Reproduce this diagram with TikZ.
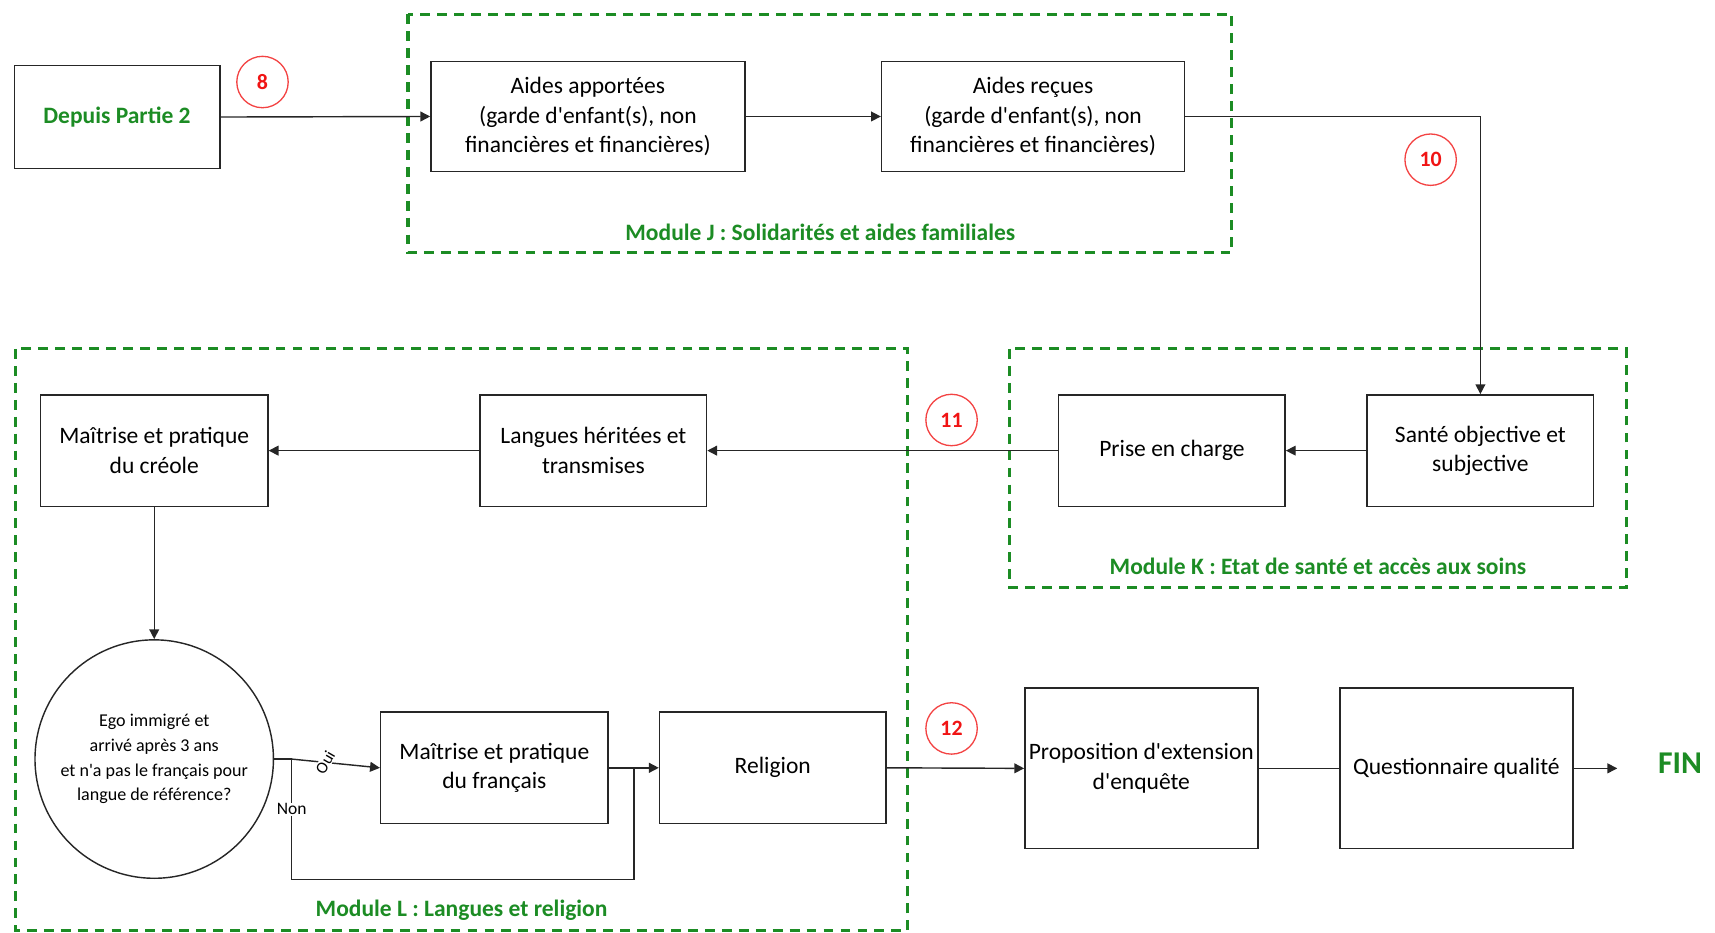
\documentclass[tikz,border=0pt]{standalone}
\usepackage{fontspec}
\setmainfont{Carlito}[Ligatures=TeXOff]
\usetikzlibrary{arrows.meta,calc}
\definecolor{modgreen}{RGB}{28,140,36}
\definecolor{numred}{RGB}{240,20,20}
\tikzset{
  stepbox/.style={draw=black!85, line width=1.3pt, rectangle, align=center, inner sep=2pt,
    font=\fontsize{21.5}{27}\selectfont},
  modframe/.style={draw=modgreen, line width=2.8pt, dash pattern=on 9pt off 6.5pt},
  modlabel/.style={text=modgreen, font=\bfseries\fontsize{21.5}{25}\selectfont},
  numcirc/.style={draw=numred!80, circle, line width=1.2pt, minimum size=47pt, inner sep=0pt,
    text=numred, font=\bfseries\fontsize{20}{22}\selectfont},
  conn/.style={draw=black!85, line width=1.3pt},
  arr/.style={conn, -{Triangle[width=9pt,length=9pt]}},
  small/.style={font=\fontsize{16.5}{22.5}\selectfont, align=center},
}
\begin{document}
\begin{tikzpicture}[x=1pt,y=-1pt]
\useasboundingbox (0,0) rectangle (1568,853);
% module frames
\draw[modframe] (373,13) rectangle (1126,231);
\draw[modframe] (923,319) rectangle (1487,537);
\draw[modframe] (14,319) rectangle (830,851);
\node[modlabel] (lj) at (750,212) {Module J : Solidarités et aides familiales};
\node[modlabel] (lk) at (1205,518) {Module K : Etat de santé et accès aux soins};
\node[modlabel] (ll) at (422,832) {Module L : Langues et religion};
% boxes
\node[stepbox, minimum width=188pt, minimum height=94pt, text=modgreen, font=\bfseries\fontsize{21.5}{25}\selectfont] (dep) at (107,107) {Depuis Partie 2};
\node[stepbox, minimum width=287pt, minimum height=101pt] (aa) at (537.5,106.5) {Aides apportées\\(garde d'enfant(s), non\\financières et financières)};
\node[stepbox, minimum width=277pt, minimum height=101pt] (ar) at (944.5,106.5) {Aides reçues\\(garde d'enfant(s), non\\financières et financières)};
\node[stepbox, minimum width=207pt, minimum height=102pt] (san) at (1353.5,412) {Santé objective et\\subjective};
\node[stepbox, minimum width=207pt, minimum height=102pt] (pec) at (1071.5,412) {Prise en charge};
\node[stepbox, minimum width=207pt, minimum height=102pt] (lh) at (542.5,412) {Langues héritées et\\transmises};
\node[stepbox, minimum width=208pt, minimum height=102pt] (cre) at (141,412) {Maîtrise et pratique\\du créole};
\node[draw=black!85, line width=1.3pt, circle, minimum size=218pt, inner sep=0pt, small] (q) at (141,694) {Ego immigré et\\arrivé après 3 ans\\et n'a pas le français pour\\langue de référence?};
\node[stepbox, minimum width=208pt, minimum height=102pt] (mf) at (452,702) {Maîtrise et pratique\\du français};
\node[stepbox, minimum width=207pt, minimum height=102pt] (rel) at (706.5,702) {Religion};
\node[stepbox, minimum width=213pt, minimum height=147pt] (prop) at (1043.5,702.5) {Proposition d'extension\\d'enquête};
\node[stepbox, minimum width=213pt, minimum height=147pt] (qq) at (1331.5,702.5) {Questionnaire qualité};
\node[text=modgreen, font=\bfseries\fontsize{29}{32}\selectfont] (fin) at (1536,698) {FIN};
% numbers
\node[numcirc] (n8) at (240,75) {8};
\node[numcirc] (n10) at (1308,146) {10};
\node[numcirc] (n11) at (870,384) {11};
\node[numcirc] (n12) at (870,666) {12};
% connectors
\draw[arr] (dep.east) -- (aa.west);
\draw[arr] (aa.east) -- (ar.west);
\draw[arr] (ar.east) -| (san.north);
\draw[arr] (san.west) -- (pec.east);
\draw[arr] (pec.west) -- (lh.east);
\draw[arr] (lh.west) -- (cre.east);
\draw[arr] (cre.south) -- (q.north);
\coordinate (sp) at ($(q.east)+(16,0)$);
\coordinate (jn) at ($(mf.east)!0.5!(rel.west)$);
\draw[conn] (q.east) -- (sp);
\draw[arr] (sp) -- node[pos=0.38, fill=white, inner sep=0.5pt, rotate=60, font=\fontsize{15}{16}\selectfont] (oui) {Oui} (mf.west);
\draw[arr] (mf.east) -- (rel.west);
\draw[conn] (sp) -- ++(0,110) -| (jn);
\node[fill=white, inner sep=1pt, font=\fontsize{16}{18}\selectfont] (non) at ($(sp)+(0,46)$) {Non};
\draw[arr] (rel.east) -- (prop.west);
\draw[conn] (prop.east) -- (qq.west);
\coordinate (fe) at ($(qq.east)+(40,0)$);
\draw[arr] (qq.east) -- (fe);
\end{tikzpicture}
\end{document}
